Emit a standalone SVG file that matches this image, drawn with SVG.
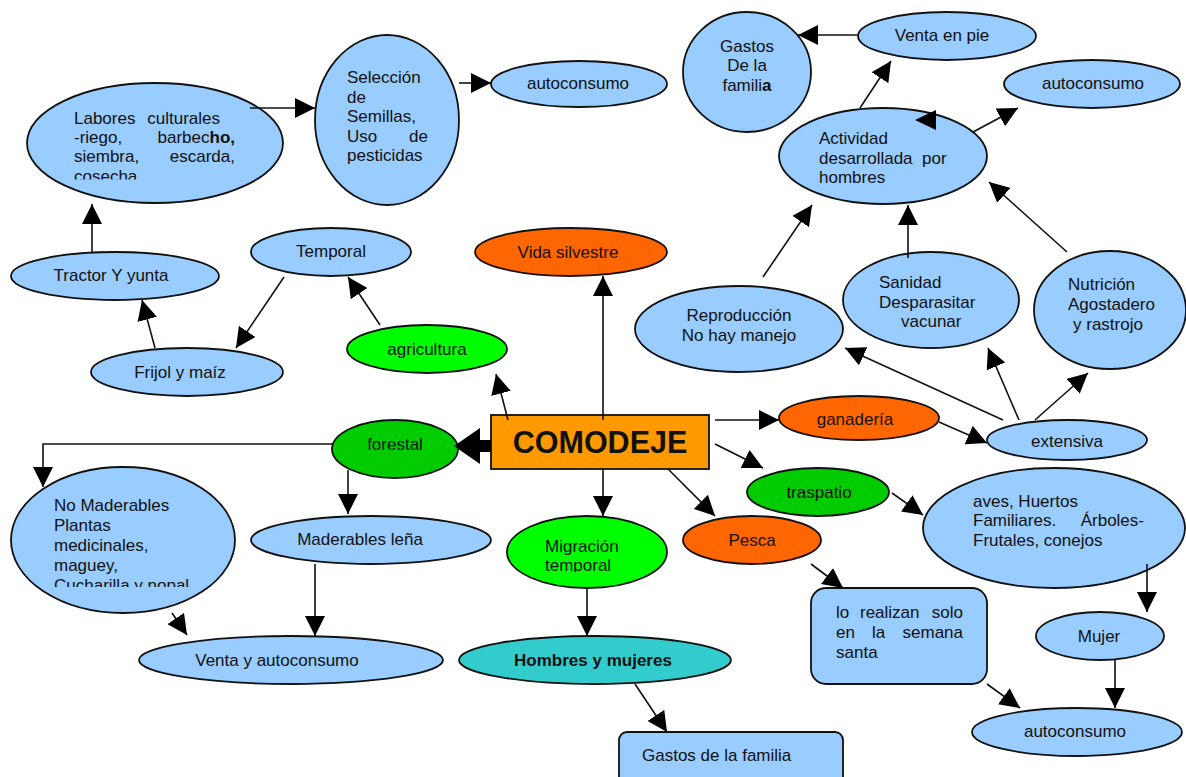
<svg xmlns="http://www.w3.org/2000/svg" width="1186" height="777" viewBox="0 0 1186 777">
<style>
text{font-family:"Liberation Sans",Arial,sans-serif;font-size:17px;fill:#111}
.c{text-anchor:middle}
.e{text-anchor:end}
.b{font-weight:bold}
.n{stroke:#111;stroke-width:1.8}
.blue{fill:#99CCFF}
.red{fill:#FF6600}
.lime{fill:#00FF00}
.green{fill:#00CC00}
.teal{fill:#33CCCC}
.org{fill:#FF9900}
.ln{stroke:#111;stroke-width:1.6;fill:none;marker-end:url(#ah)}
</style>
<defs>
<marker id="ah" markerUnits="userSpaceOnUse" markerWidth="20" markerHeight="20" refX="20" refY="10" orient="auto"><path d="M0,0 L20,10 L0,20 z" fill="#000"/></marker>
<clipPath id="clipLab"><rect x="0" y="0" width="400" height="179.5"/></clipPath>
<clipPath id="clipNoMad"><rect x="0" y="480" width="300" height="107"/></clipPath>
<clipPath id="clipMig"><rect x="500" y="520" width="200" height="52"/></clipPath>
</defs>
<rect width="1186" height="777" fill="#fff"/>

<g id="labores">
<ellipse class="n blue" cx="155" cy="143" rx="128" ry="60"/>
<g clip-path="url(#clipLab)">
<text x="74" y="124">Labores</text><text class="e" x="220" y="124">culturales</text>
<text x="74" y="143">-riego,</text><text class="e" x="235" y="143">barbec<tspan class="b">ho,</tspan></text>
<text x="74" y="162">siembra,</text><text class="e" x="235" y="162">escarda,</text>
<text x="74" y="182">cosecha</text>
</g>
</g>
<g id="seleccion">
<ellipse class="n blue" cx="387" cy="120" rx="72" ry="85"/>
<text x="347" y="83">Selección</text>
<text x="347" y="103">de</text>
<text x="347" y="122">Semillas,</text>
<text x="347" y="142">Uso</text><text class="e" x="428" y="142">de</text>
<text x="347" y="161">pesticidas</text>
</g>
<g id="autoconsumo1">
<ellipse class="n blue" cx="579" cy="84" rx="88" ry="23"/>
<text class="c" x="578" y="89">autoconsumo</text>
</g>
<g id="gastos-de-la-familia-top">
<ellipse class="n blue" cx="747" cy="72" rx="64" ry="60"/>
<text class="c" x="747" y="52">Gastos</text>
<text class="c" x="747" y="71">De la</text>
<text class="c" x="747" y="91">famili<tspan class="b">a</tspan></text>
</g>
<g id="venta-en-pie">
<ellipse class="n blue" cx="947" cy="36" rx="89" ry="24"/>
<text class="c" x="942" y="41">Venta en pie</text>
</g>
<g id="autoconsumo2">
<ellipse class="n blue" cx="1092" cy="84" rx="88" ry="24"/>
<text class="c" x="1093" y="89">autoconsumo</text>
</g>
<g id="actividad">
<ellipse class="n blue" cx="883" cy="156" rx="104" ry="48"/>
<text x="819" y="144">Actividad</text>
<text x="819" y="164" style="white-space:pre">desarrollada  por</text>
<text x="819" y="183">hombres</text>
</g>
<g id="vida-silvestre">
<ellipse class="n red" cx="571" cy="252" rx="96" ry="24"/>
<text class="c" x="568" y="258">Vida silvestre</text>
</g>
<g id="temporal">
<ellipse class="n blue" cx="331" cy="252" rx="80" ry="24"/>
<text class="c" x="331" y="257">Temporal</text>
</g>
<g id="tractor">
<ellipse class="n blue" cx="115" cy="276" rx="104" ry="24"/>
<text class="c" x="111" y="281">Tractor Y yunta</text>
</g>
<g id="frijol">
<ellipse class="n blue" cx="187" cy="372" rx="96" ry="24"/>
<text class="c" x="180" y="378">Frijol y maíz</text>
</g>
<g id="agricultura">
<ellipse class="n lime" cx="427" cy="349" rx="80" ry="24"/>
<text class="c" x="427" y="355">agricultura</text>
</g>
<g id="reproduccion">
<ellipse class="n blue" cx="739" cy="329" rx="104" ry="43"/>
<text class="c" x="739" y="321">Reproducción</text>
<text class="c" x="739" y="341">No hay manejo</text>
</g>
<g id="sanidad">
<ellipse class="n blue" cx="931" cy="300" rx="88" ry="48"/>
<text x="879" y="288">Sanidad</text>
<text x="879" y="308">Desparasitar</text>
<text x="901" y="327">vacunar</text>
</g>
<g id="nutricion">
<ellipse class="n blue" cx="1110" cy="310" rx="76" ry="59"/>
<text x="1068" y="290">Nutrición</text>
<text x="1068" y="310">Agostadero</text>
<text x="1073" y="330">y rastrojo</text>
</g>
<g id="comodeje">
<rect class="n org" x="491" y="415" width="218" height="54"/>
<text class="c b" x="600" y="453" style="font-size:30.5px">COMODEJE</text>
</g>
<g id="forestal">
<ellipse class="n green" cx="395" cy="449" rx="63" ry="29"/>
<text class="c" x="395" y="450">forestal</text>
</g>
<g id="ganaderia">
<ellipse class="n red" cx="859" cy="418" rx="80" ry="22"/>
<text class="c" x="855" y="425">ganadería</text>
</g>
<g id="extensiva">
<ellipse class="n blue" cx="1067" cy="440" rx="80" ry="20"/>
<text class="c" x="1067" y="447">extensiva</text>
</g>
<g id="traspatio">
<ellipse class="n green" cx="818" cy="492" rx="71" ry="24"/>
<text class="c" x="819" y="498">traspatio</text>
</g>
<g id="aves">
<ellipse class="n blue" cx="1054" cy="528" rx="131" ry="60"/>
<text x="973" y="507">aves, Huertos</text>
<text x="973" y="526">Familiares.</text><text class="e" x="1144" y="526">Árboles-</text>
<text x="973" y="546">Frutales, conejos</text>
</g>
<g id="no-maderables">
<ellipse class="n blue" cx="123" cy="540" rx="112" ry="73"/>
<g clip-path="url(#clipNoMad)">
<text x="54" y="511">No Maderables</text>
<text x="54" y="531">Plantas</text>
<text x="54" y="551">medicinales,</text>
<text x="54" y="571">maguey,</text>
<text x="54" y="591">Cucharilla y nopal</text>
</g>
</g>
<g id="maderables">
<ellipse class="n blue" cx="371" cy="540" rx="120" ry="24"/>
<text class="c" x="360" y="545">Maderables leña</text>
</g>
<g id="migracion">
<ellipse class="n lime" cx="587" cy="552" rx="80" ry="36"/>
<g clip-path="url(#clipMig)">
<text x="545" y="552">Migración</text>
<text x="545" y="571">temporal</text>
</g>
</g>
<g id="pesca">
<ellipse class="n red" cx="752" cy="540" rx="69" ry="24"/>
<text class="c" x="752" y="546">Pesca</text>
</g>
<g id="venta-autoconsumo">
<ellipse class="n blue" cx="291" cy="660" rx="152" ry="24"/>
<text class="c" x="277" y="666">Venta y autoconsumo</text>
</g>
<g id="hombres-mujeres">
<ellipse class="n teal" cx="595" cy="660" rx="136" ry="24"/>
<text class="c b" x="593" y="666">Hombres y mujeres</text>
</g>
<g id="gastos-familia">
<rect class="n blue" x="619" y="732" width="224" height="60" rx="8"/>
<text x="642" y="761">Gastos de la familia</text>
</g>
<g id="lo-realizan">
<rect class="n blue" x="811" y="588" width="176" height="96" rx="15"/>
<text x="836" y="618">lo</text><text x="860" y="618">realizan</text><text class="e" x="963" y="618">solo</text>
<text x="836" y="638">en</text><text x="872" y="638">la</text><text class="e" x="963" y="638">semana</text>
<text x="836" y="658">santa</text>
</g>
<g id="mujer">
<ellipse class="n blue" cx="1100" cy="636" rx="64" ry="24"/>
<text class="c" x="1099" y="642">Mujer</text>
</g>
<g id="autoconsumo3">
<ellipse class="n blue" cx="1077" cy="732" rx="105" ry="24"/>
<text class="c" x="1075" y="737">autoconsumo</text>
</g>

<g id="connectors">
<line class="ln" x1="250" y1="108" x2="315" y2="108"/>
<line class="ln" x1="459" y1="83" x2="491" y2="83"/>
<line class="ln" x1="92" y1="252" x2="92" y2="204"/>
<line class="ln" x1="155" y1="348" x2="142" y2="300"/>
<line class="ln" x1="284" y1="277" x2="236" y2="348"/>
<line class="ln" x1="380" y1="325" x2="348" y2="277"/>
<line class="ln" x1="508" y1="420" x2="496" y2="374"/>
<line class="ln" x1="603" y1="420" x2="603" y2="276"/>
<polygon points="454,446 480,428 480,440 491,440 491,452 480,452 480,464" fill="#000"/>
<polyline class="ln" points="332,444 43,444 43,487"/>
<line class="ln" x1="348" y1="470" x2="348" y2="514"/>
<line class="ln" x1="315" y1="564" x2="315" y2="636"/>
<line class="ln" x1="172" y1="613" x2="187" y2="635"/>
<line class="ln" x1="603" y1="469" x2="603" y2="516"/>
<line class="ln" x1="587" y1="588" x2="587" y2="636"/>
<line class="ln" x1="635" y1="684" x2="667" y2="732"/>
<line class="ln" x1="668" y1="469" x2="715" y2="516"/>
<line class="ln" x1="715" y1="444" x2="763" y2="468"/>
<line class="ln" x1="715" y1="420" x2="779" y2="420"/>
<line class="ln" x1="939" y1="422" x2="987" y2="443"/>
<line class="ln" x1="1003" y1="420" x2="845" y2="348"/>
<line class="ln" x1="1019" y1="420" x2="988" y2="348"/>
<line class="ln" x1="1035" y1="420" x2="1088" y2="373"/>
<line class="ln" x1="763" y1="277" x2="812" y2="205"/>
<line class="ln" x1="908" y1="258" x2="908" y2="205"/>
<line class="ln" x1="1067" y1="252" x2="989" y2="182"/>
<line class="ln" x1="860" y1="108" x2="891" y2="61"/>
<line class="ln" x1="973" y1="132" x2="1018" y2="108"/>
<line class="ln" x1="858" y1="35" x2="798" y2="35"/>
<polygon points="915,120 936,110 936,130" fill="#000"/>
<line class="ln" x1="892" y1="493" x2="923" y2="515"/>
<line class="ln" x1="1147" y1="564" x2="1147" y2="612"/>
<line class="ln" x1="1115" y1="660" x2="1115" y2="708"/>
<line class="ln" x1="811" y1="564" x2="843" y2="588"/>
<line class="ln" x1="987" y1="684" x2="1020" y2="708"/>
</g>
</svg>
